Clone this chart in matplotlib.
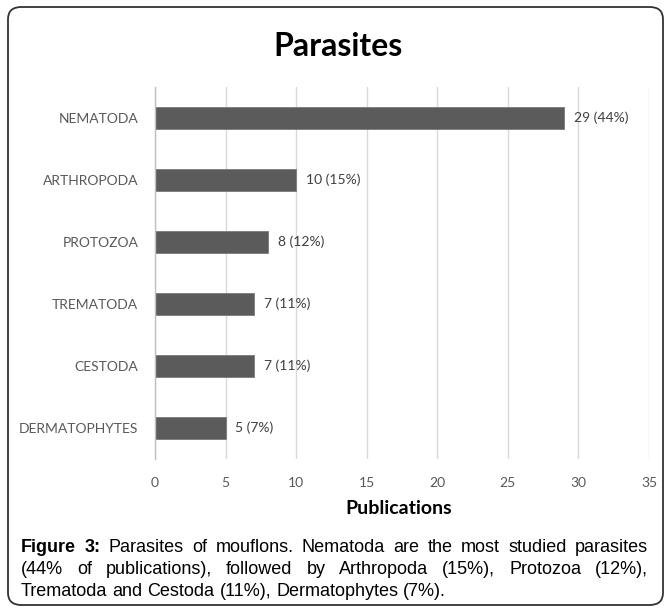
import matplotlib
matplotlib.use("Agg")
import matplotlib.pyplot as plt
from matplotlib.patches import FancyBboxPatch

categories = ["NEMATODA", "ARTHROPODA", "PROTOZOA", "TREMATODA", "CESTODA", "DERMATOPHYTES"]
publications = [29, 10, 8, 7, 7, 5]
percents = [44, 15, 12, 11, 11, 7]
xticks = [0, 5, 10, 15, 20, 25, 30, 35]
title = "Parasites"
xlabel = "Publications"
caption_bold = "Figure 3:"
caption_lines = [
    "Parasites of mouflons. Nematoda are the most studied parasites",
    "(44% of publications), followed by Arthropoda (15%), Protozoa (12%),",
    "Trematoda and Cestoda (11%), Dermatophytes (7%).",
]

W, H = 669, 609
fig = plt.figure(figsize=(W / 100, H / 100), dpi=100)
fig.patch.set_facecolor("white")

FONT = "Lato"
GRAY = "#595959"

# border
border = FancyBboxPatch((8 / W, 4 / H), (663 - 8) / W, (602 - 4) / H,
                        boxstyle="round,pad=0,rounding_size=0.02",
                        transform=fig.transFigure, fill=False,
                        edgecolor="#333333", linewidth=1.3)
fig.patches.append(border)

ax_l, ax_r = 155, 649
ax_t, ax_b = 87, 459
ax = fig.add_axes([ax_l / W, 1 - ax_b / H, (ax_r - ax_l) / W, (ax_b - ax_t) / H])
n = len(categories)
ypos = list(range(n))
ax.barh(ypos, publications, height=0.355, color="#5b5b5b", edgecolor="#7a7a7a",
        linewidth=0.6, zorder=3)
ax.set_ylim(n - 0.5, -0.5)
ax.set_xlim(0, 35)
ax.set_xticks(xticks)
ax.set_xticklabels([str(t) for t in xticks], fontfamily=FONT, fontsize=10, color=GRAY)
ax.set_yticks(ypos)
ax.set_yticklabels(categories, fontfamily=FONT, fontsize=10, color=GRAY)
ax.tick_params(axis="both", length=0)
ax.tick_params(axis="x", pad=13)
ax.tick_params(axis="y", pad=12)
ax.grid(axis="x", color="#d9d9d9", linewidth=1.0, zorder=0)
for s in ["top", "right", "bottom"]:
    ax.spines[s].set_visible(False)
ax.spines["left"].set_color("#bfbfbf")
ax.spines["left"].set_linewidth(1.0)
ax.spines["left"].set_zorder(4)

for y, v, p in zip(ypos, publications, percents):
    ax.annotate(f"{v} ({p}%)", (v, y), xytext=(7, 0), textcoords="offset points",
                va="center", ha="left", fontfamily=FONT, fontsize=10, color="#404040")

fig.text(338 / W, 1 - 46 / H, title, ha="center", va="center", fontfamily=FONT,
         fontweight="bold", fontsize=23, color="black")
fig.text(399 / W, 1 - 509 / H, xlabel, ha="center", va="center", fontfamily=FONT,
         fontweight="bold", fontsize=14, color="black")

# caption, justified
fig.canvas.draw()
renderer = fig.canvas.get_renderer()
CAP_FONT = "Liberation Sans"
CAP_SIZE = 13
x0, x1 = 21, 648
line_y = [546, 568, 590]


def measure(s, weight="normal"):
    t = fig.text(0, 0, s, fontfamily=CAP_FONT, fontsize=CAP_SIZE, fontweight=weight)
    w = t.get_window_extent(renderer).width
    t.remove()
    return w


space = measure("a b") - measure("a") - measure("b")
for i, line in enumerate(caption_lines):
    words = [(w, "normal") for w in line.split(" ")]
    if i == 0:
        words = [(wd, "bold") for wd in caption_bold.split(" ")] + words
    widths = [measure(w, wt) for w, wt in words]
    if i < len(caption_lines) - 1:
        gap = (x1 - x0 - sum(widths)) / (len(words) - 1)
    else:
        gap = space
    x = x0
    for (w, wt), wd in zip(words, widths):
        fig.text(x / W, 1 - line_y[i] / H, w, ha="left", va="center_baseline",
                 fontfamily=CAP_FONT, fontsize=CAP_SIZE, fontweight=wt, color="black")
        x += wd + gap

fig.savefig("out.png", dpi=100, facecolor="white")
